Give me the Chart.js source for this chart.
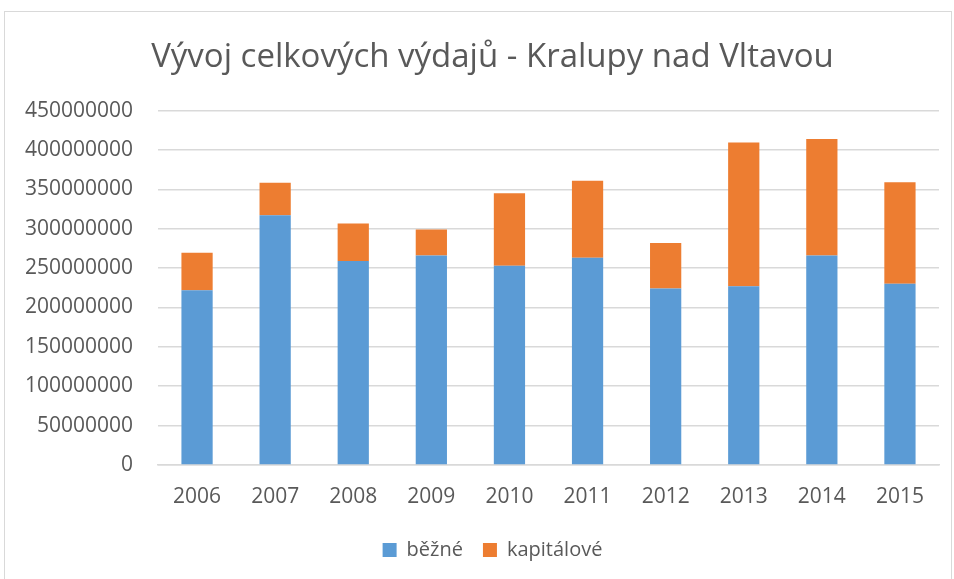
<!DOCTYPE html>
<html>
<head>
<meta charset="utf-8">
<script src="https://cdn.jsdelivr.net/npm/chart.js@4.4.0/dist/chart.umd.min.js"></script>
<style>
  body { margin: 0; background: #fff; }
  #frame { position: absolute; left: 4px; top: 11px; width: 948px; height: 580px; border: 1px solid #d9d9d9; box-sizing: border-box; }
  #wrap { position: absolute; left: 0; top: 0; width: 954px; height: 579px; }
</style>
</head>
<body>
<div id="frame"></div>
<div id="wrap"><canvas id="myChart" width="954" height="579"></canvas></div>
<script>
var years = ['2006', '2007', '2008', '2009', '2010', '2011', '2012', '2013', '2014', '2015'];
var bezne = [222000000, 317000000, 259000000, 266000000, 253000000, 263000000, 224000000, 227000000, 266000000, 230000000];
var kapitalove = [47500000, 41500000, 47500000, 33000000, 92000000, 98000000, 58000000, 182500000, 148000000, 129000000];
var yTicks = [0, 50000000, 100000000, 150000000, 200000000, 250000000, 300000000, 350000000, 400000000, 450000000];

// title and legend sit centred over the plot, not the whole canvas
var shiftBlocks = {
    id: 'shiftBlocks',
    afterLayout: function(chart) {
        chart.titleBlock.left += 46;
        chart.legend.left += 46;
    }
};

document.addEventListener("DOMContentLoaded", function() {
    Chart.defaults.font.family = "'Open Sans', sans-serif";
    Chart.defaults.color = '#595959';

    var ctx = document.getElementById('myChart').getContext('2d');

    var myChart = new Chart(ctx, {
        type: 'bar',
        data: {
            labels: years,
            datasets: [{
                label: 'běžné',
                data: bezne,
                backgroundColor: '#5b9bd5',
                borderWidth: 0
            }, {
                label: 'kapitálové',
                data: kapitalove,
                backgroundColor: '#ed7d31',
                borderWidth: 0
            }]
        },
        plugins: [shiftBlocks],
        options: {
            responsive: false,
            animation: false,
            layout: {
                padding: { left: 0, right: 15, top: 0, bottom: 9 }
            },
            categoryPercentage: 1,
            barPercentage: 0.4,
            plugins: {
                title: {
                    display: true,
                    text: 'Vývoj celkových výdajů - Kralupy nad Vltavou',
                    font: { size: 33, weight: 'normal' },
                    color: '#595959',
                    padding: { top: 38, bottom: 33 }
                },
                legend: {
                    position: 'bottom',
                    labels: {
                        boxWidth: 14,
                        boxHeight: 14,
                        padding: 20,
                        font: { size: 20 }
                    }
                },
                tooltip: { enabled: false }
            },
            scales: {
                x: {
                    stacked: true,
                    afterFit: function(axis) { axis.height = 55; },
                    grid: { display: false },
                    border: { color: '#d9d9d9', width: 1.5 },
                    ticks: { padding: 11, font: { size: 21 } }
                },
                y: {
                    stacked: true,
                    min: 0,
                    max: yTicks[yTicks.length - 1],
                    afterBuildTicks: function(axis) {
                        axis.ticks = yTicks.map(function(v) { return { value: v }; });
                    },
                    afterFit: function(axis) { axis.width = 158; },
                    grid: { color: '#d9d9d9', lineWidth: 1.5, drawTicks: false },
                    border: { display: false },
                    ticks: {
                        padding: 25,
                        font: { size: 21 },
                        callback: function(v) { return String(v); }
                    }
                }
            }
        }
    });
});
</script>
</body>
</html>
